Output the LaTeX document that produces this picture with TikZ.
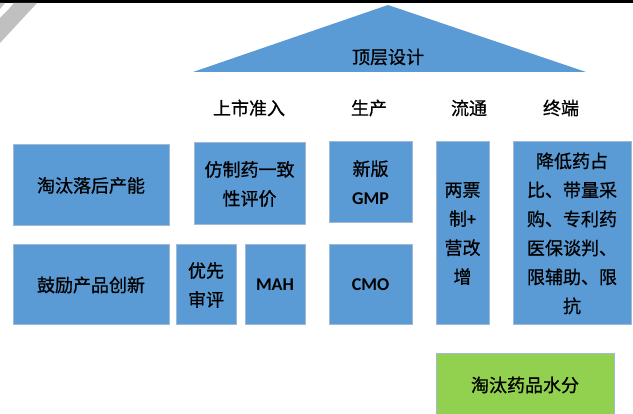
\documentclass[tikz,border=0pt]{standalone}
\usepackage{fontspec}
\setmainfont{Noto Sans CJK SC}[FakeBold=0.8,AutoFakeBold=0.8]
\newfontfamily\latf{Carlito}
\newcommand{\lt}[1]{{\latf\bfseries #1}}
\definecolor{boxblue}{HTML}{5B9BD5}
\definecolor{boxedge}{HTML}{A3B9D3}
\definecolor{boxgreen}{HTML}{92D050}
\definecolor{deco}{HTML}{C0C0C0}
\begin{document}
\begin{tikzpicture}[x=1pt,y=-1pt,
  every node/.style={inner sep=0pt, outer sep=0pt, font=\fontsize{18}{29}\selectfont, align=center},
  box/.style={draw=boxedge, line width=1pt, fill=boxblue},
  gbox/.style={draw=boxedge, line width=1pt, fill=boxgreen},
  head/.style={}]
\useasboundingbox (0,0) rectangle (633,414);
\clip (0,0) rectangle (633,414);
\fill[white] (0,0) rectangle (633,414);
% top bar and corner decoration
\fill[black] (0,0) rectangle (633,3);
\fill[deco] (14,3) -- (37,3) -- (0,43) -- (0,18) -- (8,10) -- cycle;
\fill[deco] (0,3) -- (5,3) -- (0,9) -- cycle;
% roof
\fill[boxblue] (193,72) coordinate (tl) -- (388,5) coordinate (tt) -- (586,72) coordinate (tr) -- cycle;
\node (top) at (388,57) {顶层设计};
% headings
\node[head] (h1) at (249,108) {上市准入};
\node[head] (h2) at (369,108) {生产};
\node[head] (h3) at (469,108) {流通};
\node[head] (h4) at (561,108) {终端};
% boxes
\node[box, minimum width=156pt, minimum height=81pt] (a) at (91,185.5) {淘汰落后产能};
\node[box, minimum width=111pt, minimum height=82pt] (b) at (249.5,184) {仿制药一致\\性评价};
\node[box, minimum width=156pt, minimum height=80pt] (c) at (91,285) {鼓励产品创新};
\node[box, minimum width=60pt, minimum height=80pt] (d) at (206,285) {优先\\审评};
\node[box, minimum width=60pt, minimum height=80pt] (e) at (275,285) {\lt{MAH}};
\node[box, minimum width=83pt, minimum height=81pt] (f) at (370.5,182.5) {新版\\\lt{GMP}};
\node[box, minimum width=83pt, minimum height=80pt] (g) at (370.5,285) {\lt{CMO}};
\node[box, minimum width=53pt, minimum height=183pt] (h) at (462.5,233.5) {两票\\制\lt{+}\\营改\\增};
\node[box, minimum width=118pt, minimum height=183pt] (i) at (572,233.5) {降低药占\\比、带量采\\购、专利药\\医保谈判、\\限辅助、限\\抗};
\node[gbox, minimum width=178pt, minimum height=70pt] (j) at (525,389) {};
\node (jt) at (525,385) {淘汰药品水分};
\end{tikzpicture}
\end{document}
